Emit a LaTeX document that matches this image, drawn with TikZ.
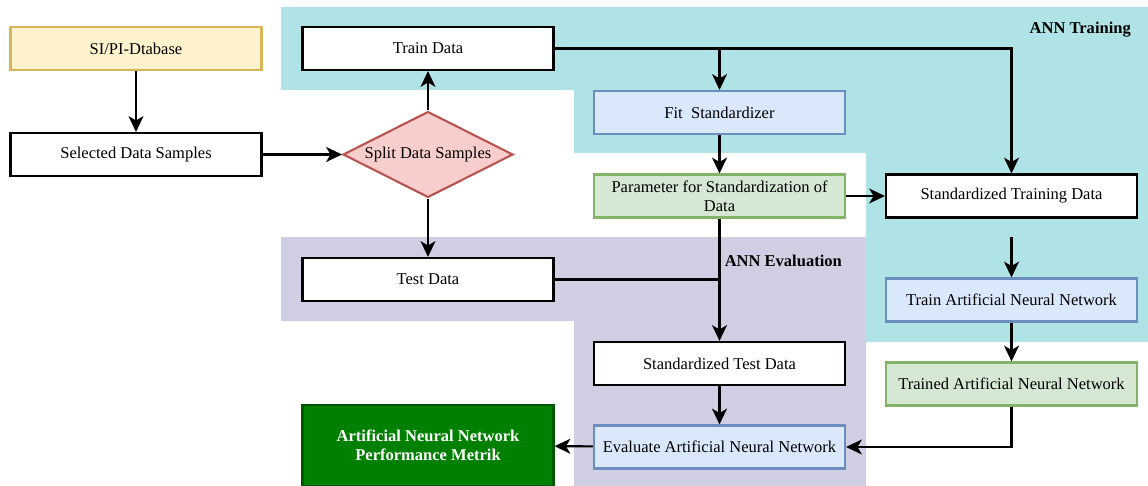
\documentclass[tikz,border=0pt]{standalone}
\usepackage{fontspec}
\setmainfont{Liberation Serif}
\usetikzlibrary{positioning, arrows.meta, shapes.geometric}

\definecolor{trainbg}{HTML}{B0E3E6}
\definecolor{evalbg}{HTML}{D0CEE2}
\definecolor{yellowfill}{HTML}{FFF2CC}
\definecolor{yellowline}{HTML}{D6B656}
\definecolor{redfill}{HTML}{F8CECC}
\definecolor{redline}{HTML}{B85450}
\definecolor{bluefill}{HTML}{DAE8FC}
\definecolor{blueline}{HTML}{6C8EBF}
\definecolor{greenfill}{HTML}{D5E8D4}
\definecolor{greenline}{HTML}{82B366}
\definecolor{darkfill}{HTML}{008000}
\definecolor{darkline}{HTML}{005700}

\begin{document}
\begin{tikzpicture}[x=0.02cm, y=-0.02cm,
  every node/.style={font=\fontsize{9.4}{11}\selectfont},
  block/.style={draw, line width=1.2pt, rectangle, minimum width=5.02cm,
    minimum height=0.86cm, align=center, inner sep=1pt, fill=white},
  dbstyle/.style={block, fill=yellowfill, draw=yellowline},
  procstyle/.style={block, fill=bluefill, draw=blueline},
  paramstyle/.style={block, fill=greenfill, draw=greenline},
  resultstyle/.style={block, fill=darkfill, draw=darkline, text=white,
    minimum height=1.62cm, font=\fontsize{9.4}{11}\selectfont\bfseries},
  splitstyle/.style={diamond, draw=redline, fill=redfill, line width=1.2pt,
    aspect=2, minimum width=3.4cm, minimum height=1.72cm, inner sep=0pt},
  flow/.style={line width=1.2pt, -{Stealth[length=9pt, width=8.5pt, inset=2.5pt]}},
  grouplabel/.style={anchor=east, font=\fontsize{9.4}{11}\selectfont\bfseries}
]
\useasboundingbox (0,0) rectangle (1148,486);

% background groups
\fill[trainbg] (281,7) -- (1148,7) -- (1148,342) -- (866,342) -- (866,153)
  -- (574,153) -- (574,90) -- (281,90) -- cycle;
\fill[evalbg] (281,237) -- (866,237) -- (866,486) -- (574,486) -- (574,321)
  -- (281,321) -- cycle;
\node[grouplabel] (lbltrain) at (1137,30) {ANN Training};
\node[grouplabel] (lbleval) at (848,261) {ANN Evaluation};

\path
(136,48.5) node[dbstyle] (dbase) {SI/PI-Dtabase}
++(0,106) node[block] (select) {Selected Data Samples}
++(292,0) node[splitstyle] (split) {Split Data Samples}
++(0,-106) node[block] (train) {Train Data}
+(0,231) node[block] (test) {Test Data}
+(0,397) node[resultstyle] (metrik) {Artificial Neural Network\\ Performance Metrik}
++(291.5,64) node[procstyle] (fit) {Fit~~Standardizer}
++(0,83.5) node[paramstyle] (param) {Parameter for Standardization of\\ Data}
+(0,167.5) node[block] (stdtest) {Standardized Test Data}
+(0,251) node[procstyle] (eval) {Evaluate Artificial Neural Network}
++(292,0) node[block] (stdtrain) {Standardized Training Data}
+(0,104) node[procstyle] (trainann) {Train Artificial Neural Network}
+(0,188) node[paramstyle] (trained) {Trained Artificial Neural Network}
;

\coordinate (tap) at (fit.north |- train.east);
\coordinate (gap) at (1011.5,237);
\coordinate (join) at (stdtest.north |- test.east);

\draw[flow] (dbase) -- (select);
\draw[flow] (select) -- (split);
\draw[flow] (split) -- (train);
\draw[flow] (split) -- (test);

\draw[flow] (train.east) -| (stdtrain.north);
\draw[flow] (tap) -- (fit);
\draw[flow] (fit) -- (param);
\draw[flow] (param) -- (stdtrain);
\draw[flow] (param) -- (stdtest);
\draw[line width=1.2pt] (test.east) -- (join);

\draw[flow] (gap) -- (trainann);
\draw[flow] (trainann) -- (trained);
\draw[flow] (trained.south) |- (eval.east);
\draw[flow] (stdtest) -- (eval);
\draw[flow] (eval) -- (metrik);

\end{tikzpicture}
\end{document}
